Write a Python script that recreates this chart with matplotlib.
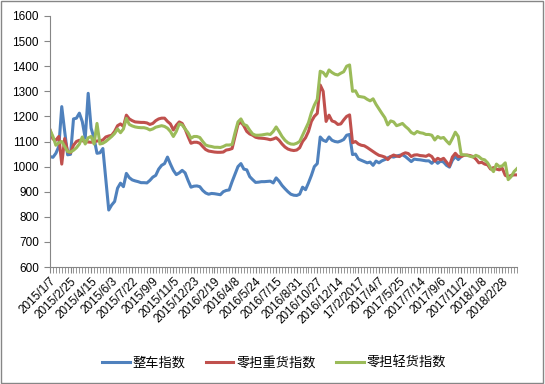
import numpy as np
import matplotlib
matplotlib.use("Agg")
import matplotlib.pyplot as plt
from matplotlib.patches import Rectangle

plt.rcParams['font.family'] = ['Liberation Sans', 'Noto Sans CJK SC', 'DejaVu Sans']

# weekly index values
truck = [1040, 1037, 1053, 1080, 1239, 1140, 1047, 1049, 1190, 1193, 1213, 1179, 1113, 1292, 1153, 1113,
         1053, 1055, 1072, 950, 827, 847, 861, 914, 934, 920, 973, 956, 947, 943, 940, 936, 936,
         935, 945, 958, 965, 990, 1005, 1012, 1038, 1010, 985, 968, 975, 985, 975, 945, 918, 922, 923,
         920, 905, 895, 890, 893, 892, 890, 888, 900, 905, 907, 940, 970,
         1000, 1012, 990, 987, 960, 948, 937, 938, 940, 940, 941, 942, 935, 955, 942, 925, 912, 900,
         890, 886, 885, 890, 918, 908, 935, 965, 1000, 1012, 1118, 1105, 1100, 1118, 1105, 1100,
         1098, 1102, 1108, 1125, 1128, 1048, 1050, 1030, 1025, 1020, 1015, 1018, 1005, 1022, 1015,
         1023, 1028, 1035, 1040, 1038, 1042, 1045, 1047, 1040, 1030, 1020, 1030, 1028, 1027, 1025, 1023,
         1023, 1013, 1026, 1013, 1022, 1018, 1005, 998, 1025, 1040, 1028, 1040]

heavy = [1146, 1110, 1105, 1120, 1010, 1112, 1060, 1055, 1085, 1100, 1105, 1103, 1100, 1098, 1097, 1100,
         1102, 1103, 1106, 1118, 1122, 1125, 1140, 1163, 1170, 1160, 1205, 1190, 1183, 1178, 1177, 1176, 1176,
         1174, 1168, 1172, 1183, 1190, 1193, 1193, 1180, 1170, 1146, 1165, 1178, 1172, 1150, 1120, 1093,
         1097, 1097, 1093, 1080, 1068, 1062, 1060, 1058, 1057, 1057, 1058, 1066, 1068, 1072, 1120,
         1168, 1178, 1162, 1140, 1130, 1125, 1117, 1114, 1113, 1112, 1110, 1107, 1110, 1115, 1105, 1090,
         1078, 1070, 1066, 1064, 1066, 1075, 1100, 1115, 1140, 1180, 1200, 1212, 1325, 1300, 1180, 1205,
         1182, 1178,
         1168, 1170, 1186, 1200, 1206, 1095, 1100, 1090, 1085, 1083, 1076, 1068, 1060, 1052, 1045, 1042,
         1038, 1028, 1040, 1046, 1042, 1040, 1050, 1055, 1052, 1040, 1046, 1047, 1044, 1043, 1041,
         1047, 1040, 1022, 1033, 1027, 1033, 1018, 1002, 1038, 1053, 1040, 1040, 1045, 1046, 1044, 1040,
         1030, 1015, 1017, 1010, 1007, 990, 996, 990, 987, 993, 965, 960, 965, 967, 967]

light = [1146, 1120, 1085, 1095, 1100, 1080, 1060, 1058, 1065, 1075, 1090, 1118, 1090, 1115, 1120, 1090,
         1172, 1090, 1093, 1100, 1110, 1120, 1132, 1150, 1135, 1150, 1192, 1168, 1162, 1158, 1156, 1155, 1155,
         1152, 1146, 1150, 1157, 1160, 1163, 1160, 1153, 1140, 1120, 1140, 1170, 1166, 1150, 1135, 1113,
         1120, 1120, 1116, 1100, 1086, 1082, 1080, 1077, 1077, 1076, 1080, 1086, 1086, 1088, 1135,
         1178, 1190, 1168, 1163, 1145, 1130, 1125, 1125, 1126, 1128, 1130, 1128, 1140, 1158, 1140, 1120,
         1105, 1095, 1090, 1089, 1093, 1100, 1125, 1150, 1175, 1215, 1245, 1268, 1380, 1375, 1360, 1385,
         1375, 1368,
         1365, 1372, 1378, 1400, 1405, 1300, 1302, 1280, 1278, 1276, 1268, 1262, 1270, 1248, 1230, 1212,
         1195, 1166, 1182, 1178, 1163, 1167, 1172, 1160, 1150, 1136, 1130, 1140, 1135, 1133, 1128,
         1128, 1125, 1106, 1120, 1113, 1116, 1102, 1090, 1112, 1137, 1120, 1048, 1047, 1045, 1041, 1038,
         1045, 1040, 1030, 1027, 1015, 995, 980, 1010, 1000, 1003, 1015, 948, 960, 980, 992]

tick_labels = ["2015/1/7", "2015/2/25", "2015/4/15", "2015/6/3", "2015/7/22", "2015/9/9", "2015/11/5",
               "2015/12/23", "2016/2/19", "2016/4/8", "2016/5/24", "2016/7/15", "2016/8/31", "2016/10/27",
               "2016/12/14", "17/2/2017", "2017/4/7", "2017/5/25", "2017/7/14", "2017/9/6", "2017/11/2",
               "2018/1/8", "2018/2/28"]
names = ["整车指数", "零担重货指数", "零担轻货指数"]
colors = ["#4F81BD", "#C0504D", "#9BBB59"]

fig = plt.figure(figsize=(5.45, 3.84), dpi=100)
ax = fig.add_axes([50/545, 1-267/384, 467/545, 251/384])

n = len(heavy)
for vals, name, c in zip([truck, heavy, light], names, colors):
    ax.plot(np.arange(len(vals)), vals, color=c, lw=2.2, label=name, solid_joinstyle="round")

ax.set_xlim(0, n-1)
ax.set_ylim(600, 1600)
ax.set_yticks(np.arange(600, 1601, 100))
ax.set_xticks(np.arange(0, len(tick_labels)*7, 7))
ax.set_xticklabels(tick_labels, rotation=45, ha="right", va="top", rotation_mode="anchor")
ax.set_xticks(np.arange(n), minor=True)

for s in ["top", "right"]:
    ax.spines[s].set_visible(False)
for s in ["left", "bottom"]:
    ax.spines[s].set_color("#868686")
ax.tick_params(axis="both", which="both", color="#868686", labelsize=8.5, direction="out")
ax.tick_params(axis="y", length=4, pad=4)
ax.tick_params(axis="x", which="both", length=4, pad=2)

fig.legend(loc="center", bbox_to_anchor=(0.503, 0.055), ncol=3, frameon=False,
           prop={"family": ["Noto Sans CJK SC"], "size": 9.5},
           handlelength=2.1, handletextpad=0.25, columnspacing=1.5)

# chart border
fig.patches.append(Rectangle((0.002, 0.003), 0.994, 0.994, transform=fig.transFigure,
                             fill=False, edgecolor="#868686", lw=1))

fig.savefig("out.png", dpi=100)
